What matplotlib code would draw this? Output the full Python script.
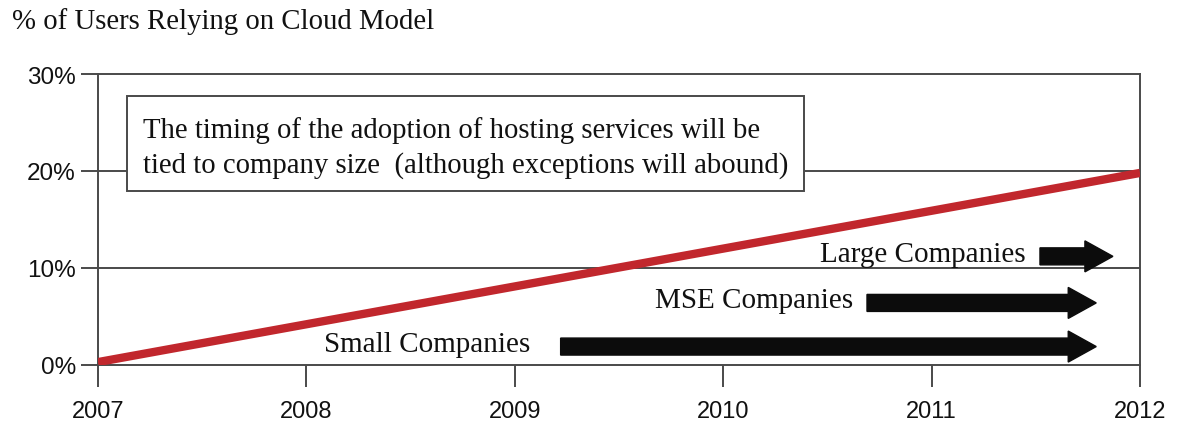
import numpy as np
import matplotlib.pyplot as plt
from matplotlib.patches import Rectangle

# chart data
years = [2007, 2008, 2009, 2010, 2011, 2012]
trend_years = [2007, 2012]
trend_pct = [0.3, 19.8]
yticks = [0, 10, 20, 30]
ytick_labels = ['0%', '10%', '20%', '30%']

groups = ['Large Companies', 'MSE Companies', 'Small Companies']
group_pct = [11.2, 6.4, 1.9]
arrow_start = [2011.52, 2010.69, 2009.22]
arrow_end = [2011.87, 2011.79, 2011.79]

title = '% of Users Relying on Cloud Model'
note = ('The timing of the adoption of hosting services will be\n'
        'tied to company size  (although exceptions will abound)')

serif = 'Liberation Serif'
sans = 'Liberation Sans'
grey = '#4a4a4a'
ink = '#111111'

fig = plt.figure(figsize=(11.83, 4.27), dpi=100)
ax = fig.add_axes([98 / 1183, 1 - 366 / 427, 1042 / 1183, 291 / 427])

ax.set_xlim(2007, 2012)
ax.set_ylim(0, 30)

for s in ['left', 'right', 'top', 'bottom']:
    ax.spines[s].set_color(grey)
    ax.spines[s].set_linewidth(1.4)

ax.set_yticks(yticks)
ax.set_yticklabels(ytick_labels, fontsize=17.5, family=sans, color=ink)
ax.set_xticks(years)
ax.set_xticklabels([str(y) for y in years], fontsize=17, family=sans, color=ink)
ax.tick_params(axis='y', direction='out', length=12, width=1.4, color=grey, pad=4)
ax.tick_params(axis='x', direction='out', length=16, width=1.4, color=grey, pad=9)

for v in yticks[1:-1]:
    ax.axhline(v, color=grey, lw=1.4, zorder=1)

ax.plot(trend_years, trend_pct, color='#c1272d', lw=6, solid_capstyle='butt', zorder=3)

# company size arrows
shaft = 17 / 9.7
head_w = 31 / 9.7
head_l = 28 / 208.4
gaps = [-10, -10, -22]
for name, y, x0, x1, g in zip(groups, group_pct, arrow_start, arrow_end, gaps):
    ax.arrow(x0, y, x1 - x0, 0, width=shaft, head_width=head_w, head_length=head_l,
             length_includes_head=True, fc='#0c0c0c', ec='#0c0c0c', zorder=4)
    ax.annotate(name, (x0, y), xytext=(g, 2), textcoords='offset points',
                ha='right', va='center', fontsize=21, family=serif, color=ink)

# note box
ax.add_patch(Rectangle((0.028, 0.598), 0.65, 0.326, transform=ax.transAxes,
                       fc='white', ec=grey, lw=1.4, zorder=5))
ax.text(0.043, 0.748, note, transform=ax.transAxes, ha='left', va='center',
        fontsize=20.7, family=serif, color=ink, linespacing=1.38, zorder=6)

fig.text(12 / 1183, 1 - 22 / 427, title, ha='left', va='center',
         fontsize=20.7, family=serif, color=ink)

fig.savefig('out.png', dpi=100)
